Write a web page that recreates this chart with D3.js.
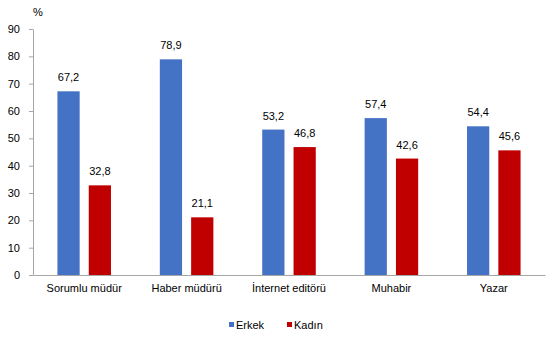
<!DOCTYPE html>
<html><head><meta charset="utf-8">
<script src="https://cdn.jsdelivr.net/npm/d3@7"></script>
<style>body{margin:0;background:#fff}text{font-family:"Liberation Sans",Arial,sans-serif;fill:#000}</style>
</head><body>
<svg id="c" width="558" height="339"></svg>
<script>
const categories = ["Sorumlu müdür","Haber müdürü","İnternet editörü","Muhabir","Yazar"];
const seriesNames = ["Erkek","Kadın"];
const erkek = [67.2,78.9,53.2,57.4,54.4];
const kadin = [32.8,21.1,46.8,42.6,45.6];
const yTicks = [0,10,20,30,40,50,60,70,80,90];
const colors = ["#4472C4","#C00000"];

const svg = d3.select("#c");
const m = {l:33, r:13, t:29, b:64};
const W = 558, H = 339;
const x = d3.scaleBand().domain(categories).range([m.l, W-m.r]).paddingInner(0).paddingOuter(0);
const xs = d3.scaleBand().domain(seriesNames).range([0, x.bandwidth()]).paddingInner(0.29).paddingOuter(0.78);
const y = d3.scaleLinear().domain([0,90]).range([H-m.b, m.t]);
const fmt = v => d3.format(".1f")(v).replace(".",",");

const data = categories.map((c,i)=>({c, vals:[erkek[i],kadin[i]]}));
const g = svg.append("g");
data.forEach(d=>{
  d.vals.forEach((v,j)=>{
    const bx = x(d.c)+xs(seriesNames[j]);
    g.append("rect").attr("x",bx).attr("y",y(v)).attr("width",xs.bandwidth()).attr("height",y(0)-y(v)).attr("fill",colors[j]);
    g.append("text").attr("x",bx+xs.bandwidth()/2).attr("y",y(v)-10).attr("text-anchor","middle").style("font-size","11px").text(fmt(v));
  });
});

const ya = d3.axisLeft(y).tickValues(yTicks).tickSize(4).tickSizeOuter(0).tickPadding(9);
const yg = svg.append("g").attr("transform",`translate(${m.l},0)`).call(ya);
yg.selectAll("path,line").attr("stroke","#a6a6a6");
yg.selectAll("text").style("font-size","11px").style("font-family","'Liberation Sans',Arial,sans-serif");

const xa = d3.axisBottom(x).tickSize(0).tickPadding(9);
const xg = svg.append("g").attr("transform",`translate(0,${y(0)})`).call(xa);
xg.select("path").attr("stroke","#a6a6a6");
xg.selectAll("text").style("font-size","11px").style("font-family","'Liberation Sans',Arial,sans-serif");

svg.append("text").attr("x",33).attr("y",16).style("font-size","11px").text("%");

const legX = [229, 287];
seriesNames.forEach((s,j)=>{
  svg.append("rect").attr("x",legX[j]).attr("y",322).attr("width",5).attr("height",5).attr("fill",colors[j]);
  svg.append("text").attr("x",legX[j]+7).attr("y",329).style("font-size","11px").text(s);
});
</script>
</body></html>
